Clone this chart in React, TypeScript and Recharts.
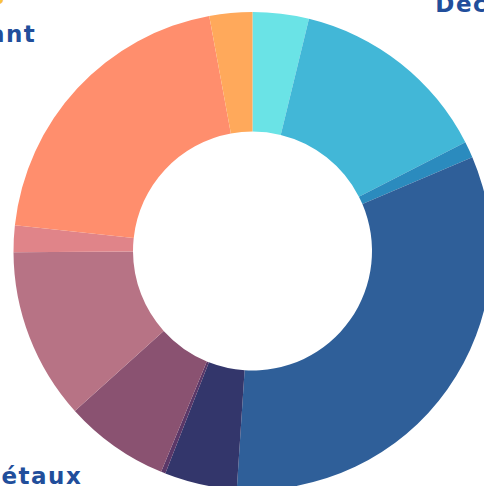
import React from 'react';
import { PieChart, Pie, Cell } from 'recharts';

const categories = [
  'Commerce',
  'Déchets',
  'Énergie',
  'Construction',
  'Transport',
  'Textile',
  'Métaux',
  'Chimie',
  'Bois',
  'Restaurant',
  'Services',
];
const shares = [3.8, 13.7, 1.1, 32.5, 4.9, 0.3, 7.1, 11.6, 1.8, 20.4, 2.9];
const colors = [
  '#6AE3E6',
  '#42B7D7',
  '#2B8BBE',
  '#2F5F99',
  '#33366B',
  '#5B3868',
  '#8A5271',
  '#B77385',
  '#E08489',
  '#FF8E6D',
  '#FFA95B',
];

const data = categories.map((name, i) => ({ name, value: shares[i] }));

const FONT_FAMILY = "'DejaVu Sans', sans-serif";
const FONT_SIZE = 23;
const LETTER_SPACING = 1.5;
const FONT = `bold ${FONT_SIZE}px 'DejaVu Sans'`;
const NAME_COLOR = '#214E9B';
const VALUE_COLOR = '#F9C23C';
const RAD = Math.PI / 180;

let ctx: any = null;
function measure(text: string): number {
  if (!ctx) ctx = document.createElement('canvas').getContext('2d');
  if (!ctx) return text.length * (FONT_SIZE * 0.65 + LETTER_SPACING);
  ctx.font = FONT;
  let w = ctx.measureText(text).width;
  w += LETTER_SPACING * text.length;
  return w;
}

const fmt = (v: number) => `${v.toFixed(1).replace('.', ',')}\u00a0%`;

const renderLabel = (props: any) => {
  const { cx, cy, midAngle, outerRadius, index } = props;
  const r = outerRadius + 56;
  const cos = Math.cos(-midAngle * RAD);
  const sin = Math.sin(-midAngle * RAD);
  const x = cx + r * cos;
  const y = cy + r * sin;
  const nameText = categories[index];
  const valueText = fmt(shares[index]);
  const w = Math.max(measure(nameText), measure(valueText));
  const left = cos >= 0 ? x : x - w;
  const mid = left + w / 2;
  const upper = sin < 0;
  const nameY = y - 8;
  const valueY = upper ? nameY - 38 : nameY + 38;
  const common = {
    textAnchor: 'middle' as const,
    fontFamily: FONT_FAMILY,
    fontWeight: 'bold',
    fontSize: FONT_SIZE,
    letterSpacing: LETTER_SPACING,
  };
  return (
    <g key={`lbl-${index}`}>
      <text x={mid} y={valueY} fill={VALUE_COLOR} {...common}>
        {valueText}
      </text>
      <text x={mid} y={nameY} fill={NAME_COLOR} {...common}>
        {nameText}
      </text>
    </g>
  );
};

export default function App() {
  return (
    <div style={{ position: 'absolute', left: 0, top: 0, width: 484, height: 486 }}>
      <PieChart width={484} height={486} margin={{ top: 0, right: 0, bottom: 0, left: 0 }}>
        <Pie
          data={data}
          dataKey="value"
          nameKey="name"
          cx={252.5}
          cy={251}
          innerRadius={119.5}
          outerRadius={239}
          startAngle={90}
          endAngle={-270}
          stroke="none"
          label={renderLabel}
          labelLine={false}
          isAnimationActive={false}
        >
          {data.map((d, i) => (
            <Cell key={d.name} fill={colors[i]} />
          ))}
        </Pie>
      </PieChart>
    </div>
  );
}
